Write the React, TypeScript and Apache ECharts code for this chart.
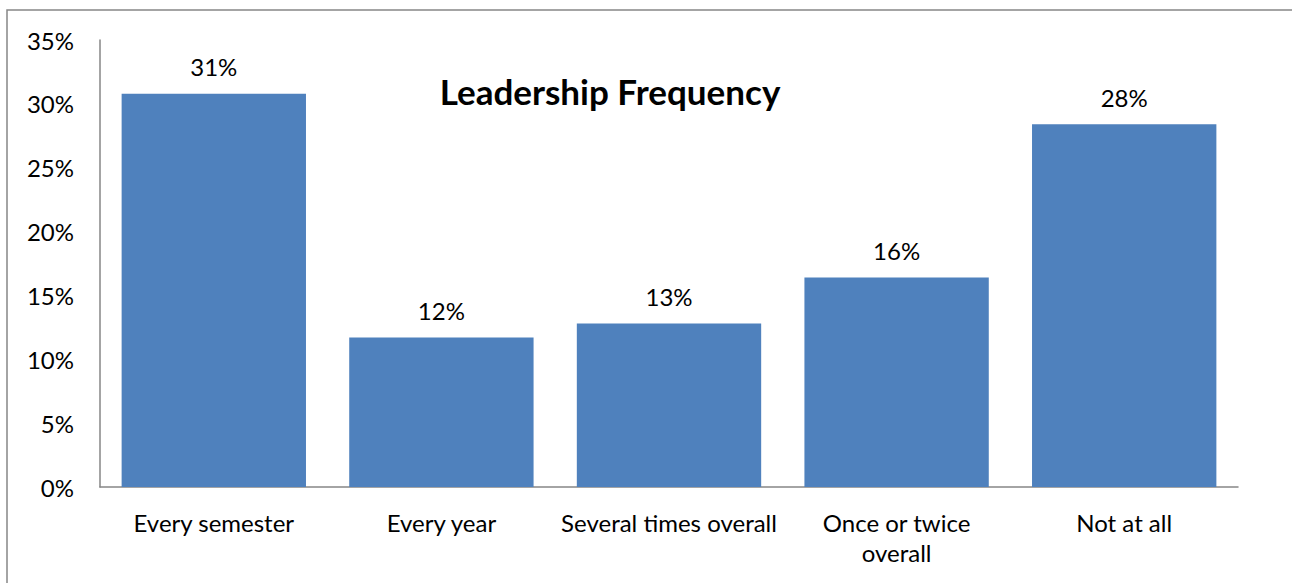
import React, { useEffect, useRef } from "react";
import * as echarts from "echarts";

const categories = ["Every semester", "Every year", "Several times overall", "Once or twice\noverall", "Not at all"];
const values = [30.8, 11.7, 12.8, 16.4, 28.4];
const yTicks = [0, 5, 10, 15, 20, 25, 30, 35];
const titleText = "Leadership Frequency";

export default function App() {
  const ref = useRef<HTMLDivElement>(null);
  useEffect(() => {
    if (!ref.current) return;
    const chart = echarts.init(ref.current, undefined, { renderer: "svg" });
    const font = "Lato, 'Noto Sans', sans-serif";
    chart.setOption({
      animation: false,
      backgroundColor: "#ffffff",
      title: {
        text: titleText,
        left: 605,
        top: 68,
        textAlign: "center",
        textStyle: { fontFamily: font, fontSize: 35, fontWeight: "bold", color: "#000" },
      },
      graphic: [
        {
          type: "rect",
          shape: { x: 7, y: 10, width: 1400, height: 700 },
          style: { fill: "none", stroke: "#878787", lineWidth: 1.5 },
          silent: true,
        },
      ],
      grid: { left: 100, top: 40, right: 54, bottom: 96, containLabel: false },
      xAxis: {
        type: "category",
        data: categories,
        axisLine: { show: true, lineStyle: { color: "#868686", width: 1.5 } },
        axisTick: { show: false },
        axisLabel: { color: "#000", fontFamily: font, fontSize: 24, margin: 20, lineHeight: 30, interval: 0 },
      },
      yAxis: {
        type: "value",
        min: yTicks[0],
        max: yTicks[yTicks.length - 1],
        interval: 5,
        splitLine: { show: false },
        axisLine: { show: true, lineStyle: { color: "#868686", width: 1.5 } },
        axisTick: { show: false },
        axisLabel: { color: "#000", fontFamily: font, fontSize: 24, margin: 26, formatter: (v: number) => v + "%" },
      },
      series: [
        {
          type: "bar",
          data: values,
          barCategoryGap: "19%",
          itemStyle: { color: "#4F81BD" },
          label: {
            show: true,
            position: "top",
            distance: 15,
            color: "#000",
            fontFamily: font,
            fontSize: 24,
            formatter: (p: any) => Math.round(p.value) + "%",
          },
        },
      ],
    });
    return () => chart.dispose();
  }, []);
  return <div ref={ref} style={{ position: "fixed", left: 0, top: 0, width: 1292, height: 583, background: "#fff" }} />;
}
